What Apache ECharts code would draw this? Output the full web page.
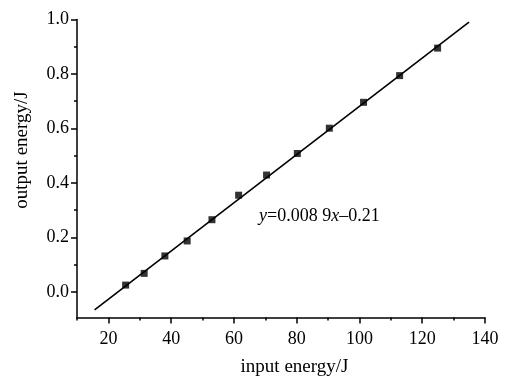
<!DOCTYPE html>
<html>
<head>
<meta charset="utf-8">
<script src="https://cdn.jsdelivr.net/npm/echarts@6/dist/echarts.min.js"></script>
<style>
  html, body { margin: 0; padding: 0; background: #fff; }
  #box { width: 512px; height: 378px; }
</style>
</head>
<body>
<div id="box"></div>
<script>
// measured points
const inputEnergy = [25.5, 31.4, 38.0, 45.1, 53.0, 61.5, 70.4, 80.2, 90.4, 101.3, 112.8, 124.9];
const outputEnergy = [0.025, 0.068, 0.132, 0.187, 0.265, 0.355, 0.429, 0.508, 0.601, 0.696, 0.794, 0.895];
// fitted line end points
const fitX = [15.6, 134.9];
const fitY = [-0.066, 0.99];
// ticks
const xMajor = [20, 40, 60, 80, 100, 120, 140];
const xMinor = [10, 30, 50, 70, 90, 110, 130];
const yMajor = [0.0, 0.2, 0.4, 0.6, 0.8, 1.0];
const yMinor = [0.1, 0.3, 0.5, 0.7, 0.9];

const font = 'Liberation Serif';
const chart = echarts.init(document.getElementById('box'));

const axisBase = {
  type: 'value',
  splitLine: { show: false },
};

chart.setOption({
  animation: false,
  textStyle: { fontFamily: font, fontSize: 18, color: '#000' },
  grid: { left: 77, right: 27, top: 19.5, bottom: 60.5 },
  xAxis: [
    Object.assign({}, axisBase, {
      min: 10, max: 140, interval: 10,
      axisLine: { onZero: false, lineStyle: { color: '#000', width: 1.5 } },
      axisTick: { customValues: xMajor, length: 6, lineStyle: { color: '#000', width: 1.5 } },
      axisLabel: {
        color: '#000', fontFamily: font, fontSize: 18, margin: 13,
        formatter: v => (xMajor.indexOf(v) >= 0 ? String(v) : '')
      }
    }),
    Object.assign({}, axisBase, {
      min: 10, max: 140, position: 'bottom',
      axisLine: { show: false, onZero: false },
      axisTick: { customValues: xMinor, length: 3, lineStyle: { color: '#000', width: 1.5 } },
      axisLabel: { show: false }
    })
  ],
  yAxis: [
    Object.assign({}, axisBase, {
      min: -0.094, max: 1.0,
      axisLine: { onZero: false, lineStyle: { color: '#000', width: 1.5 } },
      axisTick: { customValues: yMajor, length: 6, lineStyle: { color: '#000', width: 1.5 } },
      axisLabel: {
        customValues: yMajor, color: '#000', fontFamily: font, fontSize: 18, margin: 8,
        formatter: v => v.toFixed(1)
      }
    }),
    Object.assign({}, axisBase, {
      min: -0.094, max: 1.0, position: 'left',
      axisLine: { show: false, onZero: false },
      axisTick: { customValues: yMinor, length: 3, lineStyle: { color: '#000', width: 1.5 } },
      axisLabel: { show: false }
    })
  ],
  graphic: [
    {
      type: 'text', x: 294.5, y: 367,
      style: { text: 'input energy/J', font: '19px "Liberation Serif"', fill: '#000', align: 'center', verticalAlign: 'middle' }
    },
    {
      type: 'text', x: 22, y: 150, rotation: Math.PI / 2,
      style: { text: 'output energy/J', font: '19px "Liberation Serif"', fill: '#000', align: 'center', verticalAlign: 'middle' }
    },
    {
      type: 'text', x: 259, y: 216,
      style: {
        text: '{i|y}=0.008 9{i|x}\u20130.21',
        font: '18px "Liberation Serif"', fill: '#000', verticalAlign: 'middle',
        rich: { i: { fontStyle: 'italic', fontFamily: font, fontSize: 18, fill: '#000' } }
      }
    }
  ],
  series: [
    {
      type: 'line',
      data: fitX.map((x, i) => [x, fitY[i]]),
      symbol: 'none',
      lineStyle: { color: '#000', width: 1.6 },
      z: 2
    },
    {
      type: 'scatter',
      data: inputEnergy.map((x, i) => [x, outputEnergy[i]]),
      symbol: 'rect',
      symbolSize: 7,
      itemStyle: { color: '#000' },
      z: 3
    }
  ]
});
</script>
</body>
</html>
